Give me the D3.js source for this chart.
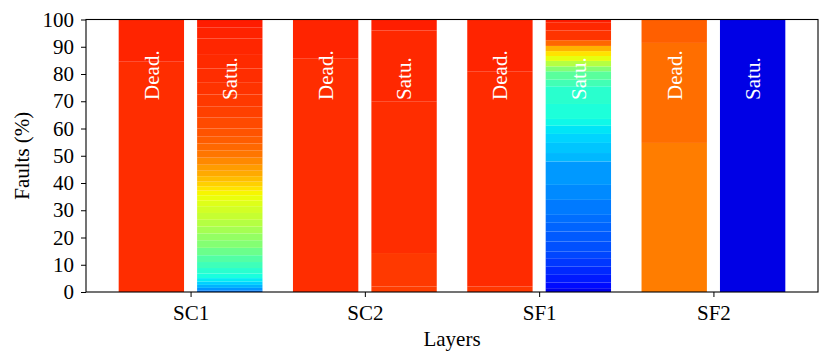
<!DOCTYPE html>
<html>
<head>
<meta charset="utf-8">
<script src="https://cdn.jsdelivr.net/npm/d3@7"></script>
<style>
  body { margin: 0; background: #fff; }
  svg { display: block; font-family: "Liberation Serif", "DejaVu Serif", serif; }
</style>
</head>
<body>
<svg id="chart" width="831" height="363"></svg>
<script>
const layers = ["SC1", "SC2", "SF1", "SF2"]
const faultTypes = ["Dead.", "Satu."]
const yTicks = [0, 10, 20, 30, 40, 50, 60, 70, 80, 90, 100]

// segment sizes in % (bottom to top) and jet colormap values for each segment
const sc1DeadSizes = [84.5, 15.5]
const sc1DeadShades = [0.862, 0.872]
const sc1SatuSizes = [0.6, 0.9, 1.1, 1.2, 1.3, 1.7, 2.0, 2.2, 2.5, 2.7, 2.8, 2.5, 2.5, 2.5, 2.5, 2.5, 2.0, 2.0, 1.7,
    1.6, 1.7, 2.0, 2.0, 2.2, 2.6, 2.7, 2.5, 2.5, 3.0, 4.0, 4.0, 4.5, 4.5, 5.0, 5.0, 6.0, 4.0, 3.0]
const sc1SatuShades = [0.24, 0.27, 0.30, 0.33, 0.355, 0.38, 0.40, 0.425, 0.45, 0.48, 0.51, 0.53, 0.55, 0.57, 0.59,
    0.605, 0.62, 0.635, 0.65, 0.67, 0.69, 0.71, 0.73, 0.745, 0.765, 0.785, 0.80, 0.812, 0.822, 0.832, 0.842,
    0.85, 0.856, 0.862, 0.866, 0.87, 0.874, 0.88]

const sc2DeadSizes = [85.6, 14.4]
const sc2DeadShades = [0.862, 0.872]
const sc2SatuSizes = [2, 12.3, 55.7, 26, 4]
const sc2SatuShades = [0.845, 0.85, 0.862, 0.868, 0.878]

const sf1DeadSizes = [2, 79, 19]
const sf1DeadShades = [0.852, 0.864, 0.872]
const sf1SatuSizes = [1.4, 2.1, 2.8, 3.0, 3.1, 2.4, 3.7, 3.7, 3.2, 2.9, 5.5, 5.5, 8.6, 3.1, 3.7, 3.3, 3.0, 2.5,
    5.5, 6.5, 2.5, 3.0, 1.8, 2.0, 1.8, 1.8, 1.9, 2.1, 3.6, 3.0, 1.0]
const sf1SatuShades = [0.092, 0.135, 0.15, 0.164, 0.179, 0.194, 0.203, 0.213, 0.223, 0.233, 0.245, 0.26, 0.275,
    0.305, 0.318, 0.333, 0.35, 0.368, 0.385, 0.40, 0.43, 0.46, 0.51, 0.57, 0.63, 0.67, 0.72, 0.80, 0.855, 0.868, 0.88]

const sf2DeadSizes = [54.7, 36.7, 8.6]
const sf2DeadShades = [0.778, 0.794, 0.809]
const sf2SatuSizes = [100]
const sf2SatuShades = [0.088]

const bars = [
    { layer: 0, type: 0, sizes: sc1DeadSizes, shades: sc1DeadShades },
    { layer: 0, type: 1, sizes: sc1SatuSizes, shades: sc1SatuShades },
    { layer: 1, type: 0, sizes: sc2DeadSizes, shades: sc2DeadShades },
    { layer: 1, type: 1, sizes: sc2SatuSizes, shades: sc2SatuShades },
    { layer: 2, type: 0, sizes: sf1DeadSizes, shades: sf1DeadShades },
    { layer: 2, type: 1, sizes: sf1SatuSizes, shades: sf1SatuShades },
    { layer: 3, type: 0, sizes: sf2DeadSizes, shades: sf2DeadShades },
    { layer: 3, type: 1, sizes: sf2SatuSizes, shades: sf2SatuShades },
]

const margin = { top: 19.5, right: 13, bottom: 71, left: 86 }
const width = 831, height = 363
const barWidth = 0.375, barOffset = 0.225

// matplotlib "jet"
const jetR = d3.scaleLinear().domain([0, 0.35, 0.66, 0.89, 1]).range([0, 0, 1, 1, 0.5]).clamp(true)
const jetG = d3.scaleLinear().domain([0, 0.125, 0.375, 0.64, 0.91, 1]).range([0, 0, 1, 1, 0, 0]).clamp(true)
const jetB = d3.scaleLinear().domain([0, 0.11, 0.34, 0.65, 1]).range([0.5, 1, 1, 0, 0]).clamp(true)
const jet = t => d3.rgb(255 * jetR(t), 255 * jetG(t), 255 * jetB(t)).formatHex()

const svg = d3.select("#chart")

const x = d3.scaleLinear()
    .domain([-0.6, layers.length - 1 + 0.6])
    .range([margin.left, width - margin.right])

const y = d3.scaleLinear()
    .domain([0, 100])
    .range([height - margin.bottom, margin.top])

const segments = bars.flatMap(b => {
    const tops = Array.from(d3.cumsum(b.sizes))
    return b.sizes.map((s, i) => ({
        cx: b.layer + (b.type === 0 ? -barOffset : barOffset),
        y0: tops[i] - s,
        y1: tops[i],
        shade: b.shades[i]
    }))
})

svg.append("g")
    .selectAll("rect")
    .data(segments)
    .join("rect")
    .attr("x", d => x(d.cx - barWidth / 2))
    .attr("width", d => x(d.cx + barWidth / 2) - x(d.cx - barWidth / 2))
    .attr("y", d => y(d.y1))
    .attr("height", d => y(d.y0) - y(d.y1))
    .attr("fill", d => jet(d.shade))

// labels inside bars
svg.append("g")
    .selectAll("text")
    .data(bars)
    .join("text")
    .attr("transform", d => `translate(${x(d.layer + (d.type === 0 ? -barOffset : barOffset))},${y(70.5)}) rotate(-90)`)
    .attr("dy", "0.35em")
    .attr("fill", "#fff")
    .style("font-size", "21px")
    .text(d => faultTypes[d.type])

// frame
svg.append("rect")
    .attr("x", margin.left)
    .attr("y", margin.top)
    .attr("width", width - margin.right - margin.left)
    .attr("height", height - margin.bottom - margin.top)
    .attr("fill", "none")
    .attr("stroke", "#000")
    .attr("stroke-width", 1.1)

const styleAxis = g => {
    g.attr("font-family", null).attr("font-size", null)
    g.select(".domain").remove()
    g.selectAll("text").style("font-size", "21px").attr("fill", "#000")
    g.selectAll("line").attr("stroke", "#000")
}

const xAxis = d3.axisBottom(x)
    .tickValues(d3.range(layers.length))
    .tickFormat(i => layers[i])
    .tickSize(5)
    .tickPadding(8)
svg.append("g")
    .attr("transform", `translate(0,${height - margin.bottom})`)
    .call(xAxis)
    .call(styleAxis)

const yAxis = d3.axisLeft(y)
    .tickValues(yTicks)
    .tickSize(5)
    .tickPadding(7)
svg.append("g")
    .attr("transform", `translate(${margin.left},0)`)
    .call(yAxis)
    .call(styleAxis)

svg.append("text")
    .attr("x", (margin.left + width - margin.right) / 2)
    .attr("y", 346)
    .attr("text-anchor", "middle")
    .style("font-size", "21px")
    .text("Layers")

svg.append("text")
    .attr("transform", `translate(29,${(margin.top + height - margin.bottom) / 2}) rotate(-90)`)
    .attr("text-anchor", "middle")
    .style("font-size", "21px")
    .text("Faults (%)")
</script>
</body>
</html>
